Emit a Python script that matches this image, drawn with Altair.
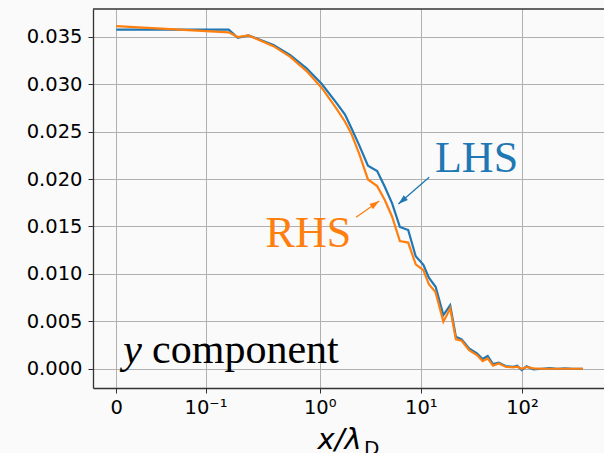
import altair as alt
import pandas as pd
import math

# ---- data (x in units of lambda_D) ----
x_vals = [0, 0.126, 0.155, 0.198, 0.349, 0.508, 0.742, 1.05, 1.47, 1.78, 2.05, 2.45,
          3.0, 3.7, 4.4, 5.2, 6.2, 7.5, 8.9, 10.6, 12.0, 14.0, 16.7, 19.5, 22.2, 25.3,
          30.0, 35.8, 40.8, 45.8, 51.7, 58.9, 68.8, 82.1, 89.6, 99.3, 111, 130, 157,
          187, 224, 266, 317, 400]
lhs_vals = [0.03574, 0.03574, 0.03489, 0.03514, 0.03412, 0.03307, 0.03167, 0.03001,
            0.02800, 0.02680, 0.02540, 0.02360, 0.02140, 0.02085, 0.01918, 0.01743,
            0.01495, 0.01462, 0.01185, 0.01095, 0.00960, 0.00864, 0.00566, 0.00668,
            0.00337, 0.00309, 0.00214, 0.00162, 0.00102, 0.00134, 0.00049, 0.00063,
            0.00028, 0.00021, 0.00032, -0.00014, 0.00025, -0.00007, 0.0, 0.00007,
            0.0, 0.00004, 0.0, 0.0]
rhs_vals = [0.03612, 0.03546, 0.03496, 0.03514, 0.03400, 0.03290, 0.03138, 0.02960,
            0.02740, 0.02604, 0.02480, 0.02270, 0.01995, 0.01925, 0.01778, 0.01602,
            0.01345, 0.01330, 0.01100, 0.01040, 0.00890, 0.00805, 0.00495, 0.00636,
            0.00309, 0.00295, 0.00197, 0.00144, 0.00081, 0.00109, 0.00032, 0.00056,
            0.00021, 0.00014, 0.00021, 0.0, 0.00018, 0.00004, 0.0, 0.0,
            0.0, 0.0, 0.0, 0.0]

tick_x = [0, 0.1, 1, 10, 100]
tick_labels = ["0", "10⁻¹", "10⁰", "10¹", "10²"]
y_ticks = [0.0, 0.005, 0.010, 0.015, 0.020, 0.025, 0.030, 0.035]

series_names = ["LHS", "RHS"]
series_colors = ["#1f77b4", "#ff7f0e"]

# annotations (data coordinates)
label_text = ["LHS", "RHS"]
label_x = [13.8, 0.292]
label_y = [0.0207, 0.01286]
arrow_x0 = [12.09, 2.29]
arrow_y0 = [0.02018, 0.01596]
arrow_x1 = [6.0, 3.88]
arrow_y1 = [0.01736, 0.01768]
arrow_angle = [229, 55]

comp_x = [0.0078, 0.0401]
comp_y = [0.00057, 0.00057]
comp_text = ["y", "component"]

# ---- symlog-like transform (linthresh L, linscale 1, base 10) ----
L = 0.126
LS = 1.0 / (1 - 0.1)


def sym_expr(f):
    return (f"datum.{f} <= {L} ? datum.{f} / {L} * {LS} : "
            f"{LS} + log(datum.{f} / {L}) / LN10")


def sym(v):
    return v / L * LS if v <= L else LS + math.log10(v / L)


tick_t = [sym(v) for v in tick_x]
label_expr = ""
for i, (tv, lab) in enumerate(zip(tick_t, tick_labels)):
    if i < len(tick_t) - 1:
        label_expr += f"datum.value < {tv + 0.3} ? '{lab}' : "
    else:
        label_expr += f"'{lab}'"

W, H = 511, 379
X_DOMAIN = [-0.2304, -0.2304 + W / 101.15]
Y_DOMAIN = [-0.00203, 0.03792]
SPINE = "#333333"

xscale = alt.Scale(domain=X_DOMAIN, nice=False, zero=False)
yscale = alt.Scale(domain=Y_DOMAIN, nice=False, zero=False)

xaxis = alt.Axis(values=tick_t, labelExpr=label_expr, grid=True, gridColor="#b0b0b0",
                 gridWidth=1, domain=True, domainColor=SPINE, domainWidth=1.3,
                 tickSize=5, tickColor=SPINE,
                 labelFont="DejaVu Sans", labelFontSize=19.5, labelColor="black",
                 labelPadding=5, title="x/λ", titleFont="DejaVu Sans",
                 titleFontStyle="italic", titleFontWeight="normal", titleFontSize=29,
                 titleColor="black", titleAlign="left", titleBaseline="alphabetic",
                 titleAnchor="start", titleX=224, titleY=60)
yaxis = alt.Axis(values=y_ticks, format=".3f", grid=True, gridColor="#b0b0b0",
                 gridWidth=1, domain=True, domainColor=SPINE, domainWidth=1.3,
                 tickSize=5, tickColor=SPINE,
                 labelFont="DejaVu Sans", labelFontSize=19.5, labelColor="black",
                 labelPadding=6, title=None)

df = pd.DataFrame({"x": x_vals, "LHS": lhs_vals, "RHS": rhs_vals})

base = alt.Chart(df).transform_calculate(t=sym_expr("x"))

lines = []
for name, col in zip(series_names, series_colors):
    lines.append(
        base.mark_line(color=col, strokeWidth=2.2, clip=True).encode(
            x=alt.X("t:Q", scale=xscale, axis=xaxis),
            y=alt.Y(f"{name}:Q", scale=yscale, axis=yaxis),
        )
    )

ann = pd.DataFrame({"text": label_text, "lx": label_x, "ly": label_y,
                    "x0": arrow_x0, "y0": arrow_y0, "x1": arrow_x1, "y1": arrow_y1,
                    "ang": arrow_angle, "col": series_colors})
ann_base = alt.Chart(ann).transform_calculate(
    lt=sym_expr("lx"), t0=sym_expr("x0"), t1=sym_expr("x1"))

color_enc = alt.Color("col:N", scale=None, legend=None)

labels = ann_base.mark_text(font="Liberation Serif", fontSize=44, align="left",
                            baseline="alphabetic").encode(
    x=alt.X("lt:Q", scale=xscale), y=alt.Y("ly:Q", scale=yscale),
    text="text:N", color=color_enc)

arrow_lines = ann_base.mark_rule(strokeWidth=1.3).encode(
    x=alt.X("t0:Q", scale=xscale), y=alt.Y("y0:Q", scale=yscale),
    x2="t1:Q", y2="y1:Q", color=color_enc)

heads = ann_base.mark_point(shape="M0,0 L-0.45,1.4 L0.45,1.4 Z", filled=True,
                            size=196, opacity=1, strokeWidth=0).encode(
    x=alt.X("t1:Q", scale=xscale), y=alt.Y("y1:Q", scale=yscale),
    angle=alt.Angle("ang:Q", scale=None), color=color_enc)

comp = pd.DataFrame({"cx": comp_x, "cy": comp_y, "text": comp_text,
                     "style": ["italic", "normal"]})
comp_base = alt.Chart(comp).transform_calculate(ct=sym_expr("cx"))
comp_y_mark = comp_base.transform_filter("datum.style == 'italic'").mark_text(
    font="Liberation Serif", fontSize=42, fontStyle="italic", align="left",
    baseline="alphabetic", color="black").encode(
    x=alt.X("ct:Q", scale=xscale), y=alt.Y("cy:Q", scale=yscale), text="text:N")
comp_word = comp_base.transform_filter("datum.style == 'normal'").mark_text(
    font="Liberation Serif", fontSize=42, align="left",
    baseline="alphabetic", color="black").encode(
    x=alt.X("ct:Q", scale=xscale), y=alt.Y("cy:Q", scale=yscale), text="text:N")

sub_d = alt.Chart(pd.DataFrame({"s": ["D"]})).mark_text(
    font="DejaVu Sans", fontSize=20, align="left", baseline="alphabetic",
    color="black").encode(x=alt.value(271), y=alt.value(446), text="s:N")

# top spine (matplotlib frame; the right spine lies just outside the picture)
top_spine = alt.Chart(pd.DataFrame({"k": [0]})).mark_rule(
    color=SPINE, strokeWidth=1.3).encode(
    x=alt.value(0), x2=alt.value(W), y=alt.value(0))

chart = alt.layer(*lines, arrow_lines, heads, labels, comp_y_mark, comp_word, sub_d,
                  top_spine).properties(
    width=W, height=H,
    autosize=alt.AutoSizeParams(type="none"),
    padding={"left": 93, "top": 9, "right": 0, "bottom": 65},
    background="#fafafa",
).configure_view(strokeWidth=0, fill="#fafafa")

chart.save("out.html", embed_options={"renderer": "svg", "actions": False})
